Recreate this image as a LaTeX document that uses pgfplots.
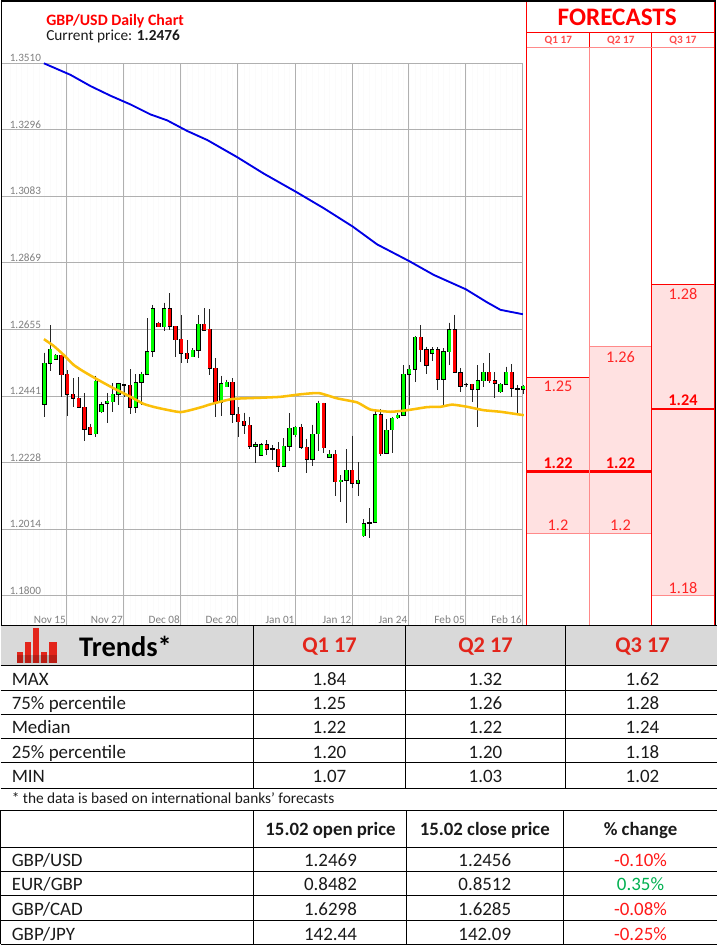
\documentclass[border=0pt]{standalone}
\usepackage{fontspec}
\setmainfont{Carlito}
\usepackage{pgfplots}
\usepackage{pgfplotstable}
\pgfplotsset{compat=1.18}
\definecolor{fcpink}{HTML}{FFE1E1}
\definecolor{fcsoft}{HTML}{FF8A8A}
\definecolor{candgreen}{HTML}{00FF00}
\definecolor{ticktxt}{HTML}{7F7F7F}
\definecolor{gridc}{HTML}{B0B0B0}
\definecolor{hdr}{HTML}{D9D9D9}
\definecolor{qred}{HTML}{E3251B}
\definecolor{ink}{HTML}{1A1A1A}
\definecolor{upgreen}{HTML}{00B050}
\newcommand\fs[1]{\fontsize{#1}{#1}\selectfont}
\pgfplotstableread{
i hi top bot lo
0 1.2581 1.2546 1.2415 1.2375
1 1.2669 1.2591 1.2546 1.2523
2 1.2576 1.2572 1.2559 1.2557
9 1.2506 1.2489 1.2320 1.2309
10 1.2423 1.2413 1.2391 1.2388
11 1.2450 1.2425 1.2418 1.2356
12 1.2482 1.2448 1.2423 1.2391
13 1.2484 1.2481 1.2448 1.2413
16 1.2511 1.2484 1.2405 1.2386
17 1.2520 1.2511 1.2485 1.2413
18 1.2691 1.2584 1.2511 1.2511
19 1.2734 1.2722 1.2585 1.2566
21 1.2741 1.2722 1.2664 1.2651
26 1.2595 1.2588 1.2568 1.2566
27 1.2701 1.2672 1.2589 1.2563
31 1.2506 1.2481 1.2422 1.2377
32 1.2493 1.2486 1.2472 1.2469
37 1.2295 1.2286 1.2280 1.2226
38 1.2290 1.2286 1.2252 1.2249
42 1.2306 1.2280 1.2217 1.2215
43 1.2386 1.2338 1.2281 1.2266
44 1.2345 1.2341 1.2318 1.2311
47 1.2350 1.2319 1.2238 1.2218
48 1.2427 1.2418 1.2320 1.2266
50 1.2268 1.2255 1.2245 1.2244
52 1.2188 1.2171 1.2167 1.2103
53 1.2271 1.2203 1.2171 1.2035
55 1.2229 1.2171 1.2161 1.2121
56 1.2046 1.2032 1.1994 1.1990
58 1.2399 1.2382 1.2036 1.2035
60 1.2367 1.2331 1.2258 1.2256
61 1.2375 1.2370 1.2333 1.2258
62 1.2386 1.2380 1.2372 1.2367
63 1.2541 1.2511 1.2380 1.2377
64 1.2541 1.2527 1.2511 1.2413
65 1.2634 1.2630 1.2528 1.2488
68 1.2598 1.2590 1.2578 1.2555
70 1.2595 1.2584 1.2495 1.2413
71 1.2677 1.2654 1.2584 1.2541
76 1.2541 1.2491 1.2463 1.2343
77 1.2546 1.2518 1.2491 1.2472
80 1.2482 1.2479 1.2456 1.2452
81 1.2536 1.2518 1.2479 1.2477
84 1.2477 1.2473 1.2463 1.2448
}\greencandles
\pgfplotstableread{
i hi top bot lo
3 1.2572 1.2572 1.2510 1.2440
4 1.2525 1.2511 1.2448 1.2378
5 1.2498 1.2447 1.2435 1.2405
6 1.2502 1.2435 1.2405 1.2405
7 1.2450 1.2405 1.2335 1.2298
8 1.2352 1.2341 1.2319 1.2317
15 1.2527 1.2476 1.2405 1.2383
20 1.2680 1.2675 1.2664 1.2662
22 1.2771 1.2722 1.2666 1.2653
23 1.2665 1.2665 1.2622 1.2566
24 1.2701 1.2623 1.2579 1.2546
25 1.2621 1.2579 1.2561 1.2549
28 1.2723 1.2672 1.2653 1.2651
29 1.2720 1.2655 1.2530 1.2510
30 1.2562 1.2530 1.2421 1.2373
33 1.2498 1.2486 1.2383 1.2354
34 1.2405 1.2383 1.2359 1.2309
35 1.2388 1.2360 1.2347 1.2320
36 1.2375 1.2347 1.2280 1.2273
39 1.2300 1.2286 1.2271 1.2253
41 1.2294 1.2271 1.2217 1.2198
45 1.2352 1.2341 1.2277 1.2271
46 1.2304 1.2277 1.2238 1.2196
49 1.2420 1.2418 1.2276 1.2258
51 1.2268 1.2255 1.2167 1.2122
54 1.2314 1.2203 1.2161 1.2147
59 1.2399 1.2382 1.2256 1.2250
66 1.2669 1.2630 1.2590 1.2552
67 1.2600 1.2590 1.2541 1.2512
69 1.2598 1.2590 1.2495 1.2461
72 1.2702 1.2654 1.2518 1.2516
73 1.2530 1.2516 1.2473 1.2456
75 1.2479 1.2479 1.2463 1.2423
78 1.2578 1.2518 1.2491 1.2484
79 1.2518 1.2491 1.2482 1.2435
82 1.2543 1.2518 1.2466 1.2437
}\redcandles
\pgfplotstableread{
i hi top bot lo
14 1.2477 1.2477 1.2475 1.2440
40 1.2284 1.2272 1.2270 1.2236
57 1.2081 1.2036 1.2034 1.1985
74 1.2484 1.2480 1.2478 1.2469
83 1.2477 1.2466 1.2464 1.2384
}\dojicandles
\pgfplotstableread{
i p
-0.10 1.3509
4.56 1.3472
8.07 1.3436
11.58 1.3405
15.09 1.3377
18.60 1.3345
21.52 1.3326
25.03 1.3292
28.54 1.3263
33.80 1.3208
38.48 1.3155
44.09 1.3097
49.00 1.3044
54.09 1.2985
58.36 1.2928
63.92 1.2875
68.30 1.2830
73.92 1.2784
77.66 1.2742
80.00 1.2718
83.92 1.2704
}\blueline
\pgfplotstableread{
i p
-0.10 1.2624
1.63 1.2602
3.39 1.2573
5.14 1.2541
6.89 1.2520
9.25 1.2495
12.16 1.2466
15.09 1.2439
17.42 1.2416
19.77 1.2404
23.86 1.2390
27.37 1.2405
29.12 1.2415
32.93 1.2432
37.89 1.2436
41.40 1.2439
44.90 1.2447
48.12 1.2451
51.35 1.2434
54.86 1.2421
57.19 1.2398
60.70 1.2391
63.63 1.2396
67.14 1.2406
69.47 1.2407
71.53 1.2414
74.16 1.2407
77.07 1.2396
80.00 1.2391
84.09 1.2380
}\yellowline
\newcommand\candles[2]{%
 \addplot[only marks, mark size=0pt, forget plot, error bars/y dir=both, error bars/y explicit, error bars/error mark=none,
   error bars/error bar style={line width=0.75pt, color=black!85}]
   table[x=i, y=hi, y error plus expr=0, y error minus expr=\thisrow{hi}-\thisrow{lo}] {#1};
 \addplot[only marks, mark size=0pt, forget plot, error bars/y dir=both, error bars/y explicit, error bars/error mark=none,
   error bars/error bar style={line width=3.2pt, color=black}]
   table[x=i, y=top, y error plus expr=0.00016, y error minus expr=\thisrow{top}-\thisrow{bot}+0.00016] {#1};
 \addplot[only marks, mark size=0pt, forget plot, error bars/y dir=both, error bars/y explicit, error bars/error mark=none,
   error bars/error bar style={line width=2.2pt, color=#2}]
   table[x=i, y=top, y error plus expr=0, y error minus expr=\thisrow{top}-\thisrow{bot}] {#1};
}
\begin{document}
\begin{tikzpicture}[x=0.75pt,y=-0.75pt]
\path (0,0) rectangle (716,946);
% ---------- candle chart
\begin{axis}[
  at={(1.365pt,-468.75pt)}, anchor=south west, scale only axis,
  width=390.31pt, height=421.5pt,
  xmin=-7.4, xmax=83.9, ymin=1.17069, ymax=1.3510,
  clip=false,
  axis line style={draw=none}, tick style={draw=none}, major tick length=0pt,
  xtick={3.9,13.9,23.9,33.9,44.0,54.0,63.8,73.9,83.9},
  xticklabels={Nov 15,Nov 27,Dec 08,Dec 20,Jan 01,Jan 12,Jan 24,Feb 05,Feb 16},
  ytick={1.1800,1.2014,1.2228,1.2441,1.2655,1.2869,1.3083,1.3296,1.3510},
  yticklabels={1.1800,1.2014,1.2228,1.2441,1.2655,1.2869,1.3083,1.3296,1.3510},
  minor xtick={-7,...,83},
  xmajorgrids, ymajorgrids, xminorgrids,
  major grid style={gridc, line width=0.75pt},
  minor grid style={black!1.5, line width=0.4pt},
  xticklabel style={anchor=south east, font=\fs{8.4}, text=ticktxt, inner sep=0pt, xshift=-0.5pt, yshift=1pt},
  yticklabel style={anchor=south west, font=\fs{8.4}, text=ticktxt, inner sep=0pt, xshift=5.4pt, yshift=0.8pt},
]
\candles{\greencandles}{candgreen}
\candles{\redcandles}{red}
\candles{\dojicandles}{black}
\addplot[color=blue!90!black, line width=1.4pt, line join=round] table[x=i,y=p] {\blueline};
\addplot[color=yellow!76!red, line width=1.9pt, smooth, tension=0.3] table[x=i,y=p] {\yellowline};
\end{axis}
% ---------- forecasts panel
\begin{axis}[
  at={(394.725pt,-468.75pt)}, anchor=south west, scale only axis,
  width=140.55pt, height=421.5pt,
  xmin=0, xmax=3, ymin=1.17069, ymax=1.3510,
  clip=false, hide axis,
]
\addplot[fill=fcpink, draw=none] coordinates {(0,1.20)(1,1.20)(1,1.25)(0,1.25)} -- cycle;
\addplot[fill=fcpink, draw=none] coordinates {(1,1.20)(2,1.20)(2,1.26)(1,1.26)} -- cycle;
\addplot[fill=fcpink, draw=none] coordinates {(2,1.18)(3,1.18)(3,1.28)(2,1.28)} -- cycle;
\addplot[red, line width=0.75pt] coordinates {(0,1.25)(1,1.25)};
\addplot[fcsoft, line width=0.75pt] coordinates {(1,1.26)(2,1.26)};
\addplot[red, line width=0.75pt] coordinates {(2,1.28)(3,1.28)};
\addplot[fcsoft, line width=0.75pt] coordinates {(0,1.20)(2,1.20)};
\addplot[fcsoft, line width=0.75pt] coordinates {(2,1.18)(3,1.18)};
\addplot[red, line width=1.8pt] coordinates {(0,1.22)(2,1.22)};
\addplot[red, line width=1.8pt] coordinates {(2,1.24)(3,1.24)};
\node[red!85, font=\fs{12.2}, yshift=-6.7pt] at (axis cs:0.5,1.25) {1.25};
\node[red!85, font=\fs{12.2}, yshift=-7.7pt] at (axis cs:1.5,1.26) {1.26};
\node[red!85, font=\fs{12.2}, yshift=-7.5pt] at (axis cs:2.5,1.28) {1.28};
\node[red, font=\fs{12.2}\bfseries, yshift=6pt] at (axis cs:0.5,1.22) {1.22};
\node[red, font=\fs{12.2}\bfseries, yshift=6pt] at (axis cs:1.5,1.22) {1.22};
\node[red, font=\fs{12.2}\bfseries, yshift=6.6pt] at (axis cs:2.5,1.24) {1.24};
\node[red!85, font=\fs{12.2}, yshift=6.2pt] at (axis cs:0.5,1.20) {1.2};
\node[red!85, font=\fs{12.2}, yshift=6.2pt] at (axis cs:1.5,1.20) {1.2};
\node[red!85, font=\fs{12.2}, yshift=6pt] at (axis cs:2.5,1.18) {1.18};
\end{axis}
% panel rules and header
\draw[red, line width=0.85pt] (526.3,1) -- (526.3,625);
\draw[red, line width=0.75pt] (651.3,32.3) -- (651.3,625);
\draw[red, line width=0.75pt] (713.7,1) -- (713.7,625);
\draw[red, line width=0.75pt] (589.3,32.3) -- (589.3,47.3);
\draw[fcsoft, line width=0.75pt] (589.3,47.3) -- (589.3,625);
\draw[red, line width=0.75pt] (526.3,32.3) -- (713.7,32.3);
\draw[fcsoft, line width=0.75pt] (526.3,47.3) -- (713.7,47.3);
\node[red, font=\fs{18.9}\bfseries] at (616.7,17) {FORECASTS};
\foreach \x/\t in {557.8/Q1 17,620.3/Q2 17,682.5/Q3 17}
  \node[red!70, font=\fs{8.4}\bfseries] at (\x,40.3) {\t};
% title
\node[anchor=base west, inner sep=0pt, red, font=\fs{11.9}\bfseries] at (45.5,25.3) {GBP/USD Daily Chart};
\node[anchor=base west, inner sep=0pt, ink, font=\fs{11.5}] at (45.5,40.3) {Current price: \textbf{1.2476}};
% outer frame
\draw[black, line width=1.1pt] (1,625) -- (1,1) -- (715,1) -- (715,625);
% ---------- trends table
\fill[hdr] (0,625.3) rectangle (716,665.3);
\foreach \y in {625.3,665.3,690.3,714.3,738.3,762.3,788.3}
  \draw[black, line width=0.75pt] (0,\y) -- (716,\y);
\foreach \x in {252.5,405.3,565.3}
  \draw[black, line width=0.75pt] (\x,625.3) -- (\x,788.3);
% icon
\fill[qred] (16,651.7) rectangle (22,663.3);
\fill[qred] (24,641.7) rectangle (30.6,663.3);
\fill[qred] (32,628.3) rectangle (38.7,663.3);
\fill[qred] (40,651.7) rectangle (46.7,663.3);
\fill[qred] (48.3,641.7) rectangle (56,663.3);
\fill[black, opacity=0.18] (16,655) rectangle (56,663.3);
\node[black, font=\fs{21.3}\bfseries] at (125,646) {Trends*};
\foreach \x/\t in {329/Q1 17,485/Q2 17,642/Q3 17}
  \node[qred, font=\fs{16.8}\bfseries] at (\x,646.7) {\t};
\foreach \y/\a/\b/\c/\d in {685/MAX/1.84/1.32/1.62,709/75\% percentile/1.25/1.26/1.28,733/Median/1.22/1.22/1.24,758/25\% percentile/1.20/1.20/1.18,782/MIN/1.07/1.03/1.02}{
  \node[anchor=base west, inner sep=0pt, ink, font=\fs{14.2}] at (11,\y) {\a};
  \node[anchor=base, ink, font=\fs{14.2}] at (329,\y) {\b};
  \node[anchor=base, ink, font=\fs{14.2}] at (485,\y) {\c};
  \node[anchor=base, ink, font=\fs{14.2}] at (642,\y) {\d};
}
\node[anchor=base west, inner sep=0pt, ink, font=\fs{11.5}] at (11,803.5) {* the data is based on international banks’ forecasts};
% ---------- price table
\foreach \y in {810.3,847,871,895.3,920.3,944}
  \draw[black, line width=0.75pt] (0,\y) -- (716,\y);
\draw[black, line width=0.75pt] (0.4,810.3) -- (0.4,944);
\foreach \x in {252.5,406.3,563.3}
  \draw[black, line width=0.75pt] (\x,810.3) -- (\x,944);
\node[anchor=base, ink, font=\fs{14.1}\bfseries] at (330,835) {15.02 open price};
\node[anchor=base, ink, font=\fs{14.1}\bfseries] at (484.3,835) {15.02 close price};
\node[anchor=base, ink, font=\fs{14.1}\bfseries] at (640,835) {\% change};
\foreach \y/\a/\b/\c/\d/\col in {866.7/GBP\slash USD/1.2469/1.2456/-0.10\%/red!90,890.7/EUR\slash GBP/0.8482/0.8512/0.35\%/upgreen,915.3/GBP\slash CAD/1.6298/1.6285/-0.08\%/red!90,940.3/GBP\slash JPY/142.44/142.09/-0.25\%/red!90}{
  \node[anchor=base west, inner sep=0pt, ink, font=\fs{14.2}] at (11,\y) {\a};
  \node[anchor=base, ink, font=\fs{14.2}] at (330,\y) {\b};
  \node[anchor=base, ink, font=\fs{14.2}] at (484.3,\y) {\c};
  \node[anchor=base, \col, font=\fs{14.2}] at (640,\y) {\d};
}
\end{tikzpicture}
\end{document}
